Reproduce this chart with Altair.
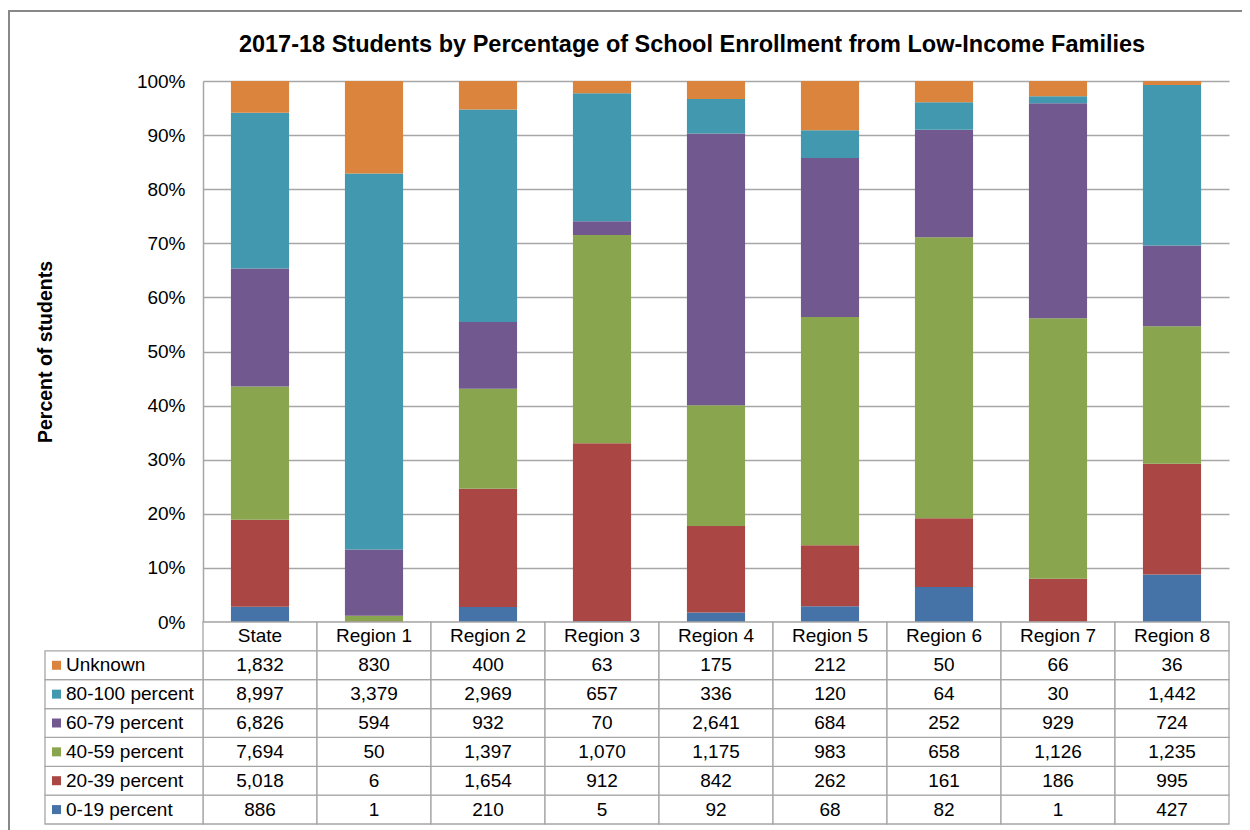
import altair as alt
import pandas as pd

categories = ["State", "Region 1", "Region 2", "Region 3", "Region 4",
              "Region 5", "Region 6", "Region 7", "Region 8"]
# series listed bottom-to-top in the stack
series = ["0-19 percent", "20-39 percent", "40-59 percent",
          "60-79 percent", "80-100 percent", "Unknown"]
v_0_19 = [886, 1, 210, 5, 92, 68, 82, 1, 427]
v_20_39 = [5018, 6, 1654, 912, 842, 262, 161, 186, 995]
v_40_59 = [7694, 50, 1397, 1070, 1175, 983, 658, 1126, 1235]
v_60_79 = [6826, 594, 932, 70, 2641, 684, 252, 929, 724]
v_80_100 = [8997, 3379, 2969, 657, 336, 120, 64, 30, 1442]
v_unknown = [1832, 830, 400, 63, 175, 212, 50, 66, 36]
colors = ["#4572A7", "#AA4643", "#89A54E", "#71588F", "#4198AF", "#DB843D"]

title_text = "2017-18 Students by Percentage of School Enrollment from Low-Income Families"
y_title = "Percent of students"
y_ticks = [0, 0.1, 0.2, 0.3, 0.4, 0.5, 0.6, 0.7, 0.8, 0.9, 1.0]

all_vals = [v_0_19, v_20_39, v_40_59, v_60_79, v_80_100, v_unknown]
rows = []
for si, (s, vals) in enumerate(zip(series, all_vals)):
    for c, v in zip(categories, vals):
        rows.append({"category": c, "series": s, "order": si, "value": v,
                     "label": f"{v:,}"})
df = pd.DataFrame(rows)

row_order = ["header"] + series[::-1]
header_df = pd.DataFrame({"category": categories, "row": "header"})
cells_df = pd.concat([
    header_df,
    pd.DataFrame([{"category": c, "row": s} for s in series for c in categories]),
])
df["row"] = df["series"]
legend_df = pd.DataFrame({"series": series, "row": series})

FONT = "Liberation Sans"
GRID = "#a6a6a6"
FS = 19
color_scale = alt.Scale(domain=series, range=colors)
x_enc = alt.X("category:N", sort=categories,
              scale=alt.Scale(paddingInner=0, paddingOuter=0), axis=None)

bars = alt.Chart(df).mark_bar(width=alt.RelativeBandSize(0.51)).encode(
    x=x_enc,
    y=alt.Y("value:Q", stack="normalize",
            scale=alt.Scale(domain=[0, 1], range=[541, 0], nice=False),
            axis=alt.Axis(values=y_ticks, format=".0%", title=y_title,
                          labelFontSize=FS, labelFont=FONT, labelColor="#000",
                          labelPadding=18, ticks=False,
                          domainColor=GRID, domainWidth=1.5,
                          gridColor=GRID, gridWidth=1.3,
                          titleFont=FONT, titleFontSize=19.5, titleFontWeight="bold",
                          titleColor="#000", titleX=-158, titleY=270.5,
                          titleAngle=270, titleAlign="center",
                          titleBaseline="middle")),
    color=alt.Color("series:N", scale=color_scale, legend=None),
    order=alt.Order("order:Q", sort="ascending"),
)

y_row = alt.Y("row:N", sort=row_order,
              scale=alt.Scale(domain=row_order, range=[541, 743],
                              paddingInner=0, paddingOuter=0), axis=None)

cells = alt.Chart(cells_df).mark_rect(fill="white", stroke=GRID, strokeWidth=1.3).encode(
    x=x_enc, y=y_row)
left_cells = alt.Chart(legend_df).mark_rect(fill="white", stroke=GRID, strokeWidth=1.3).encode(
    x=alt.value(-158), x2=alt.value(0), y=y_row)
header_text = alt.Chart(header_df).mark_text(fontSize=FS, font=FONT, color="#000").encode(
    x=x_enc, y=y_row, text="category:N")
value_text = alt.Chart(df).mark_text(fontSize=FS, font=FONT, color="#000").encode(
    x=x_enc, y=y_row, text="label:N")
squares = alt.Chart(legend_df).mark_square(size=81, opacity=1).encode(
    x=alt.value(-146.5), y=y_row,
    color=alt.Color("series:N", scale=color_scale, legend=None))
row_labels = alt.Chart(legend_df).mark_text(fontSize=FS, font=FONT, color="#000",
                                            align="left").encode(
    x=alt.value(-137), y=y_row, text="series:N")

table = alt.layer(cells, left_cells, header_text, value_text, squares, row_labels)

frame_left = alt.Chart(header_df.head(1)).mark_rule(color="#888", strokeWidth=2).encode(
    x=alt.value(-194), y=alt.value(-71), y2=alt.value(760))
frame_top = alt.Chart(header_df.head(1)).mark_rule(color="#888", strokeWidth=2).encode(
    x=alt.value(-195), x2=alt.value(1060), y=alt.value(-70))
title = alt.Chart(header_df.head(1)).mark_text(
    fontSize=23.5, font=FONT, fontWeight="bold", color="#000").encode(
    x=alt.value(489), y=alt.value(-36), text=alt.value(title_text))

chart = alt.layer(bars, table, frame_left, frame_top, title).resolve_scale(
    y="independent"
).properties(
    width=1026, height=743,
    autosize=alt.AutoSizeParams(type="none"),
    padding={"left": 195, "top": 73, "right": 13, "bottom": 6},
).configure_view(stroke=None)

chart.save("out.html", embed_options={"renderer": "svg", "actions": False})
